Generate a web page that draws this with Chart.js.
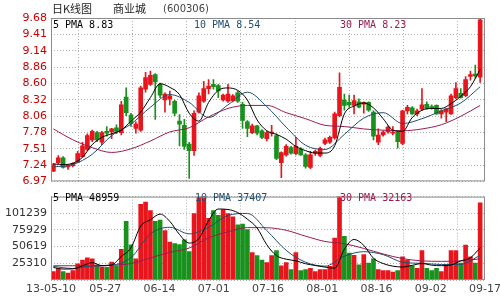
<!DOCTYPE html>
<html>
<head>
<meta charset="utf-8">
<script src="https://cdn.jsdelivr.net/npm/chart.js@4.4.0/dist/chart.umd.min.js"></script>
<style>
  html, body { margin: 0; padding: 0; background: #fff; }
  #wrap { position: relative; width: 500px; height: 300px; }
  .box { position: absolute; left: 0; width: 500px; }
</style>
</head>
<body>
<div id="wrap">
  <div class="box" style="top:0;height:192px"><canvas id="price" width="500" height="192"></canvas></div>
  <div class="box" style="top:186px;height:114px"><canvas id="vol" width="500" height="114"></canvas></div>
</div>
<script>
// daily candles, 13-05-10 .. 09-17
const opens  = [7.14,7.28,7.36,7.21,7.23,7.29,7.38,7.50,7.66,7.78, 7.62,7.80,7.79,7.86,7.78,8.37,8.07,7.85,7.82,8.50,
                8.58,8.74,8.58,8.32,8.34,8.30,7.97,7.90,7.59,7.48, 8.12,8.30,8.51,8.58,8.56,8.32,8.30,8.31,8.44,8.25,
                7.96,7.78,7.89,7.81,7.68,7.77,7.73,7.28,7.41,7.53, 7.43,7.51,7.41,7.20,7.44,7.40,7.60,7.62,7.69,8.06,
                8.32,8.28,8.23,8.29,8.25,8.28,8.12,7.62,7.74,7.79, 7.77,7.79,7.60,8.14,8.19,8.09,8.17,8.25,8.21,8.23,
                8.09,8.12,8.09,8.36,8.43,8.39,8.71,8.75,8.70];
const highs  = [7.27,7.40,7.38,7.24,7.28,7.47,7.62,7.76,7.82,7.80, 7.80,7.88,7.85,7.91,8.30,8.52,8.10,7.96,8.55,8.78,
                8.80,8.76,8.60,8.44,8.47,8.32,8.08,8.00,7.62,8.14, 8.44,8.63,8.66,8.66,8.58,8.42,8.58,8.41,8.47,8.28,
                7.98,7.92,7.90,7.83,7.80,7.90,7.76,7.46,7.58,7.55, 7.70,7.53,7.43,7.47,7.49,7.54,7.69,7.72,8.12,8.77,
                8.42,8.40,8.40,8.34,8.29,8.29,8.14,7.84,7.81,7.89, 7.88,7.80,8.15,8.23,8.21,8.17,8.51,8.29,8.24,8.24,
                8.16,8.18,8.42,8.61,8.51,8.71,8.80,8.90,9.66];
const lows   = [7.13,7.26,7.19,7.17,7.21,7.28,7.37,7.48,7.63,7.63, 7.58,7.72,7.68,7.76,7.74,8.06,7.88,7.77,7.80,8.45,
                8.56,8.00,8.36,8.12,8.24,8.06,7.56,7.50,7.02,7.40, 8.10,8.28,8.42,8.50,8.36,8.30,8.28,8.29,8.28,7.85,
                7.71,7.76,7.74,7.68,7.64,7.72,7.33,7.03,7.39,7.42, 7.41,7.40,7.19,7.18,7.40,7.38,7.58,7.60,7.67,8.04,
                8.15,8.20,8.09,8.19,8.10,8.13,7.66,7.58,7.72,7.77, 7.74,7.52,7.58,8.09,8.08,8.06,8.15,8.17,8.17,8.08,
                8.02,7.96,8.08,8.34,8.35,8.37,8.65,8.68,8.61];
const closes = [7.25,7.36,7.20,7.22,7.27,7.43,7.56,7.73,7.80,7.66, 7.78,7.77,7.84,7.80,8.24,8.11,7.93,7.92,8.52,8.69,
                8.73,8.62,8.40,8.42,8.39,8.10,7.92,7.55,7.48,8.10, 8.39,8.51,8.55,8.54,8.47,8.40,8.42,8.39,8.30,7.98,
                7.85,7.89,7.77,7.70,7.78,7.79,7.35,7.45,7.55,7.44, 7.55,7.41,7.22,7.41,7.47,7.52,7.66,7.70,8.09,8.53,
                8.23,8.24,8.31,8.20,8.28,8.15,7.72,7.74,7.79,7.87, 7.79,7.63,8.14,8.20,8.09,8.14,8.24,8.18,8.19,8.09,
                8.14,8.17,8.39,8.51,8.36,8.66,8.74,8.72,9.65];
const volumes = [12900,17300,12900,10500,14400,24400,30200,33500,32100,23000,
                 19100,19100,27300,21600,46400,89200,53200,32100,115000,118400,
                 105400,89200,91000,74800,57500,55100,53600,60800,43100,100700,
                 126100,124700,93500,105400,98200,106800,100700,95900,83800,84800,
                 76600,41700,37000,30200,26300,37000,44600,21600,26300,15800,
                 41700,14400,15800,17700,12900,15800,15800,20600,63700,140000,
                 66100,40700,37400,23000,38400,25500,32100,15800,14400,14400,
                 11900,14400,35000,30200,21600,17700,44600,17700,14400,17700,
                 12900,22500,44600,44600,25500,52800,35000,25500,117000];

// moving average lines: 5-day every 2nd day, 10/30-day every 4th day
const ma5Idx = [0,2,4,6,8,10,12,14,16,18,20,22,24,26,28,30,32,34,36,38,40,42,44,
                46,48,50,52,54,56,58,60,62,64,66,68,70,72,74,76,78,80,82,84,86,88];
const ma5  = [7.26,7.25,7.27,7.37,7.58,7.70,7.76,7.82,7.97,8.12,8.36,8.59,8.53,8.41,8.10,7.97,8.28,8.48,8.52,8.48,8.32,7.99,7.81,
              7.75,7.67,7.55,7.48,7.44,7.44,7.56,8.09,8.22,8.27,8.19,8.01,7.82,7.80,8.03,8.15,8.18,8.18,8.26,8.38,8.54,8.83];
const vma5 = [19000,16600,16800,21600,26300,21800,22800,35800,49000,81800,91400,100000,89000,69000,56000,63000,90000,107700,107000,102300,92300,79000,53500,
              37000,31600,29100,24700,22000,19600,18000,46800,61500,52500,33000,25000,21000,19700,22300,25000,22500,21700,22800,29000,33700,48959];
const maIdx = [0,4,8,12,16,20,24,28,32,36,40,44,48,52,56,60,64,68,72,76,80,84,88];
const ma10 = [7.21,7.25,7.42,7.73,7.92,8.20,8.41,8.28,8.03,8.24,8.45,8.21,7.87,7.57,7.50,7.75,8.02,8.11,7.93,8.01,8.14,8.27,8.54];
const ma30 = [7.84,7.66,7.53,7.45,7.51,7.64,7.79,7.86,8.04,8.18,8.23,8.23,8.11,8.01,7.90,7.88,7.84,7.82,7.81,7.84,7.91,8.05,8.23];
const vma10 = [20500,17500,21500,22600,34000,70000,80000,70000,80000,98000,101000,75000,45000,27000,21000,36000,43000,38500,27000,25300,23500,23700,37407];
const vma30 = [21600,21600,20800,22300,25000,33500,42000,48500,64000,73000,79500,79300,75400,66500,58500,55100,47900,39500,32500,29000,28300,29000,32163];

const tickLabels = ['13-05-10','05-27','06-14','07-01','07-16','08-01','08-16','09-02','09-17'];
const priceTicks = ['6.97','7.24','7.51','7.78','8.06','8.32','8.60','8.86','9.14','9.41','9.68'];
const volTicks = ['25310','50619','75929','101239'];

const RED = '#e8161c', GREEN = '#18921c';
const C5 = '#000000', C10 = '#1f4e6e', C30 = '#9b1b50';
const idx = opens.map((_, i) => i);
const colors = idx.map(i => closes[i] >= opens[i] ? RED : GREEN);
const xMin = -0.5, xMax = 89;
const pMin = 6.97, pMax = 9.68, vMax = 126548;
const gridColor = '#b0b0b0';

function xTicks(s) {
  s.ticks = tickLabels.map((_, k) => ({ value: xMin + k * (xMax - xMin) / 8 }));
}
function maLine(xs, vals, color) {
  return { type: 'line', data: xs.map((x, k) => ({ x, y: vals[k] })), borderColor: color,
           borderWidth: 1, pointRadius: 0, cubicInterpolationMode: 'monotone', order: 0 };
}

const frame = {
  id: 'frame',
  afterDraw(chart, args, opts) {
    const { ctx, chartArea: a } = chart;
    ctx.save();
    ctx.strokeStyle = '#8c8c8c';
    ctx.lineWidth = 1;
    ctx.strokeRect(a.left + 0.5, a.top + 0.5, a.right - a.left - 1, a.bottom - a.top - 1);
    ctx.textBaseline = 'middle';
    (opts.texts || []).forEach(t => {
      ctx.fillStyle = t.color;
      ctx.font = t.font || '10px "DejaVu Sans Mono"';
      ctx.fillText(t.text, t.x, t.y);
    });
    ctx.restore();
  }
};

new Chart(document.getElementById('price'), {
  type: 'bar',
  plugins: [frame],
  data: {
    datasets: [
      maLine(ma5Idx, ma5, C5), maLine(maIdx, ma10, C10), maLine(maIdx, ma30, C30),
      { data: idx.map(i => ({ x: i, y: [opens[i], closes[i]] })), backgroundColor: colors,
        barThickness: 4, minBarLength: 1, grouped: false, order: 1 },
      { data: idx.map(i => ({ x: i, y: [lows[i], highs[i]] })), backgroundColor: colors,
        barThickness: 1, grouped: false, order: 2 }
    ]
  },
  options: {
    responsive: false, animation: false, events: [],
    layout: { padding: { top: 18, right: 15, bottom: 8, left: 0 } },
    plugins: {
      legend: { display: false }, tooltip: { enabled: false },
      frame: { texts: [
        { text: '日K线图', x: 52, y: 9, color: '#222', font: '11px "Noto Sans CJK SC"' },
        { text: '商业城', x: 113, y: 9, color: '#222', font: '11px "Noto Sans CJK SC"' },
        { text: '(600306)', x: 163, y: 9, color: '#444', font: '10px "DejaVu Sans"' },
        { text: '5 PMA 8.83', x: 53, y: 25, color: C5 },
        { text: '10 PMA 8.54', x: 194, y: 25, color: C10 },
        { text: '30 PMA 8.23', x: 340, y: 25, color: C30 }
      ] }
    },
    scales: {
      x: { type: 'linear', min: xMin, max: xMax, offset: false, afterBuildTicks: xTicks,
           ticks: { display: false }, grid: { color: gridColor, drawTicks: false },
           border: { display: false, dash: [1, 2] }, afterFit: s => { s.height = 0; } },
      y: { min: pMin, max: pMax,
           afterBuildTicks: s => { s.ticks = priceTicks.map((_, k) => ({ value: pMin + k * (pMax - pMin) / 10 })); },
           ticks: { callback: (v, k) => priceTicks[k], color: '#cc0000', padding: 4,
                    font: { family: 'DejaVu Sans', size: 11 } },
           grid: { color: gridColor, drawTicks: false },
           border: { display: false, dash: [1, 2] }, afterFit: s => { s.width = 51; } }
    }
  }
});

new Chart(document.getElementById('vol'), {
  type: 'bar',
  plugins: [frame],
  data: {
    datasets: [
      maLine(ma5Idx, vma5, C5), maLine(maIdx, vma10, C10), maLine(maIdx, vma30, C30),
      { data: idx.map(i => ({ x: i, y: volumes[i] })), backgroundColor: colors,
        barThickness: 4, grouped: false, order: 1 }
    ]
  },
  options: {
    responsive: false, animation: false, events: [],
    layout: { padding: { top: 6, right: 15, bottom: 0, left: 0 } },
    plugins: {
      legend: { display: false }, tooltip: { enabled: false },
      frame: { texts: [
        { text: '5 PMA 48959', x: 53, y: 12, color: C5 },
        { text: '10 PMA 37407', x: 195, y: 12, color: C10 },
        { text: '30 PMA 32163', x: 340, y: 12, color: C30 }
      ] }
    },
    scales: {
      x: { type: 'linear', min: xMin, max: xMax, offset: false, afterBuildTicks: xTicks,
           ticks: { callback: (v, k) => tickLabels[k], color: '#444', maxRotation: 0, autoSkip: false,
                    padding: 3, font: { family: 'DejaVu Sans', size: 11 } },
           grid: { color: gridColor, drawTicks: false },
           border: { display: false, dash: [1, 2] },
           afterFit: s => { s.height = 20; s.paddingLeft = 0; s.paddingRight = 0; } },
      y: { min: 0, max: vMax,
           afterBuildTicks: s => { s.ticks = [0, 1, 2, 3, 4, 5].map(k => ({ value: k * vMax / 5 })); },
           ticks: { callback: (v, k) => volTicks[k - 1] || '', color: '#333', padding: 4,
                    font: { family: 'DejaVu Sans', size: 11 } },
           grid: { color: gridColor, drawTicks: false },
           border: { display: false, dash: [1, 2] }, afterFit: s => { s.width = 51; } }
    }
  }
});
</script>
</body>
</html>
